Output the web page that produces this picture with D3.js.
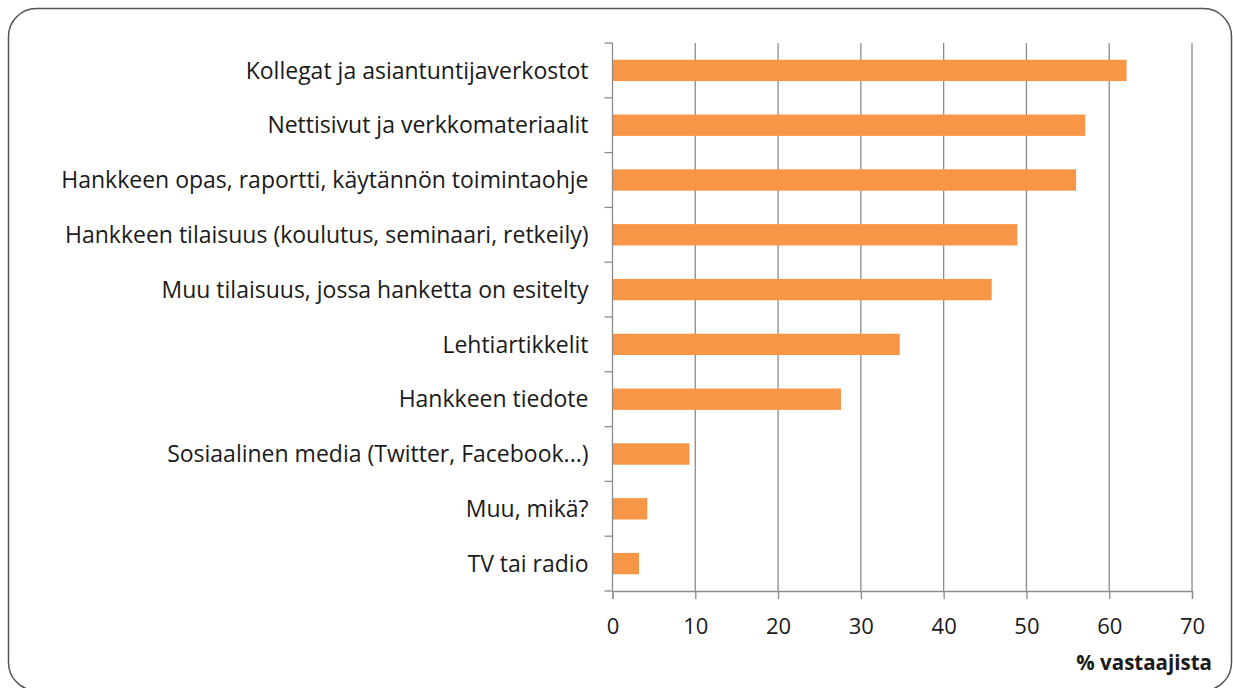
<!DOCTYPE html>
<html>
<head>
<meta charset="utf-8">
<script src="https://cdn.jsdelivr.net/npm/d3@7"></script>
<style>
  body { margin: 0; background: #fff; }
  svg text { font-family: "Open Sans", "Liberation Sans", sans-serif; fill: #1a1a1a; }
</style>
</head>
<body>
<div id="chart"></div>
<script>
const CATEGORIES = [
    'Kollegat ja asiantuntijaverkostot',
    'Nettisivut ja verkkomateriaalit',
    'Hankkeen opas, raportti, käytännön toimintaohje',
    'Hankkeen tilaisuus (koulutus, seminaari, retkeily)',
    'Muu tilaisuus, jossa hanketta on esitelty',
    'Lehtiartikkelit',
    'Hankkeen tiedote',
    'Sosiaalinen media (Twitter, Facebook...)',
    'Muu, mikä?',
    'TV tai radio'
];
const VALUES = [62.1, 57.1, 56.0, 48.9, 45.8, 34.7, 27.6, 9.3, 4.2, 3.2];
const X_TICKS = [0, 10, 20, 30, 40, 50, 60, 70];
const X_TITLE = '% vastaajista';

const BAR_COLOR = '#F79646';
const GRID_COLOR = '#8c8c8c';

function createBarChart() {
    const width = 1233, height = 688;
    const margin = { top: 43, right: 41, bottom: 97, left: 612.5 };
    const innerW = width - margin.left - margin.right;
    const innerH = height - margin.top - margin.bottom;

    const svg = d3.select('#chart')
        .append('svg')
        .attr('width', width)
        .attr('height', height);

    svg.append('rect')
        .attr('x', 8.5).attr('y', 8.5)
        .attr('width', 1223).attr('height', 682)
        .attr('rx', 28).attr('ry', 28)
        .attr('fill', '#fff')
        .attr('stroke', '#555')
        .attr('stroke-width', 1.5);

    const g = svg.append('g')
        .attr('transform', `translate(${margin.left},${margin.top})`);

    const xScale = d3.scaleLinear().domain([0, 70]).range([0, innerW]);
    const yScale = d3.scaleBand()
        .domain(CATEGORIES)
        .range([0, innerH])
        .paddingInner(0.61)
        .paddingOuter(0.305);

    // gridlines
    g.selectAll('.grid')
        .data(X_TICKS.slice(1))
        .enter()
        .append('line')
        .attr('x1', d => xScale(d)).attr('x2', d => xScale(d))
        .attr('y1', 0).attr('y2', innerH)
        .attr('stroke', GRID_COLOR)
        .attr('stroke-width', 1.3);

    g.selectAll('.bar')
        .data(VALUES)
        .enter()
        .append('rect')
        .attr('x', 0)
        .attr('y', (d, i) => yScale(CATEGORIES[i]))
        .attr('width', d => xScale(d))
        .attr('height', yScale.bandwidth())
        .attr('fill', BAR_COLOR);

    // y axis: ticks sit at band boundaries
    const yAxis = g.append('g');
    yAxis.append('line')
        .attr('x1', 0).attr('x2', 0).attr('y1', 0).attr('y2', innerH)
        .attr('stroke', GRID_COLOR).attr('stroke-width', 1.3);
    const step = yScale.step();
    yAxis.selectAll('.ytick')
        .data(d3.range(CATEGORIES.length + 1))
        .enter()
        .append('line')
        .attr('x1', -8).attr('x2', 0)
        .attr('y1', i => i * step).attr('y2', i => i * step)
        .attr('stroke', GRID_COLOR).attr('stroke-width', 1.3);
    yAxis.selectAll('.ylabel')
        .data(CATEGORIES)
        .enter()
        .append('text')
        .attr('x', -24)
        .attr('y', d => yScale(d) + yScale.bandwidth() / 2)
        .attr('dy', '0.36em')
        .attr('text-anchor', 'end')
        .style('font-size', '23px')
        .text(d => d);

    const xAxis = g.append('g')
        .attr('transform', `translate(0,${innerH})`)
        .call(d3.axisBottom(xScale).tickValues(X_TICKS).tickSize(8).tickPadding(19).tickFormat(d3.format('d')));
    xAxis.select('.domain').attr('stroke', GRID_COLOR).attr('stroke-width', 1.3);
    xAxis.selectAll('.tick line').attr('stroke', GRID_COLOR).attr('stroke-width', 1.3);
    xAxis.selectAll('.tick text')
        .style('font-size', '22px')
        .style('font-family', '"Open Sans", "Liberation Sans", sans-serif')
        .attr('fill', '#1a1a1a');

    svg.append('text')
        .attr('x', 1212)
        .attr('y', 670)
        .attr('text-anchor', 'end')
        .style('font-size', '20.5px')
        .style('font-weight', 'bold')
        .text(X_TITLE);
}

createBarChart();
</script>
</body>
</html>
